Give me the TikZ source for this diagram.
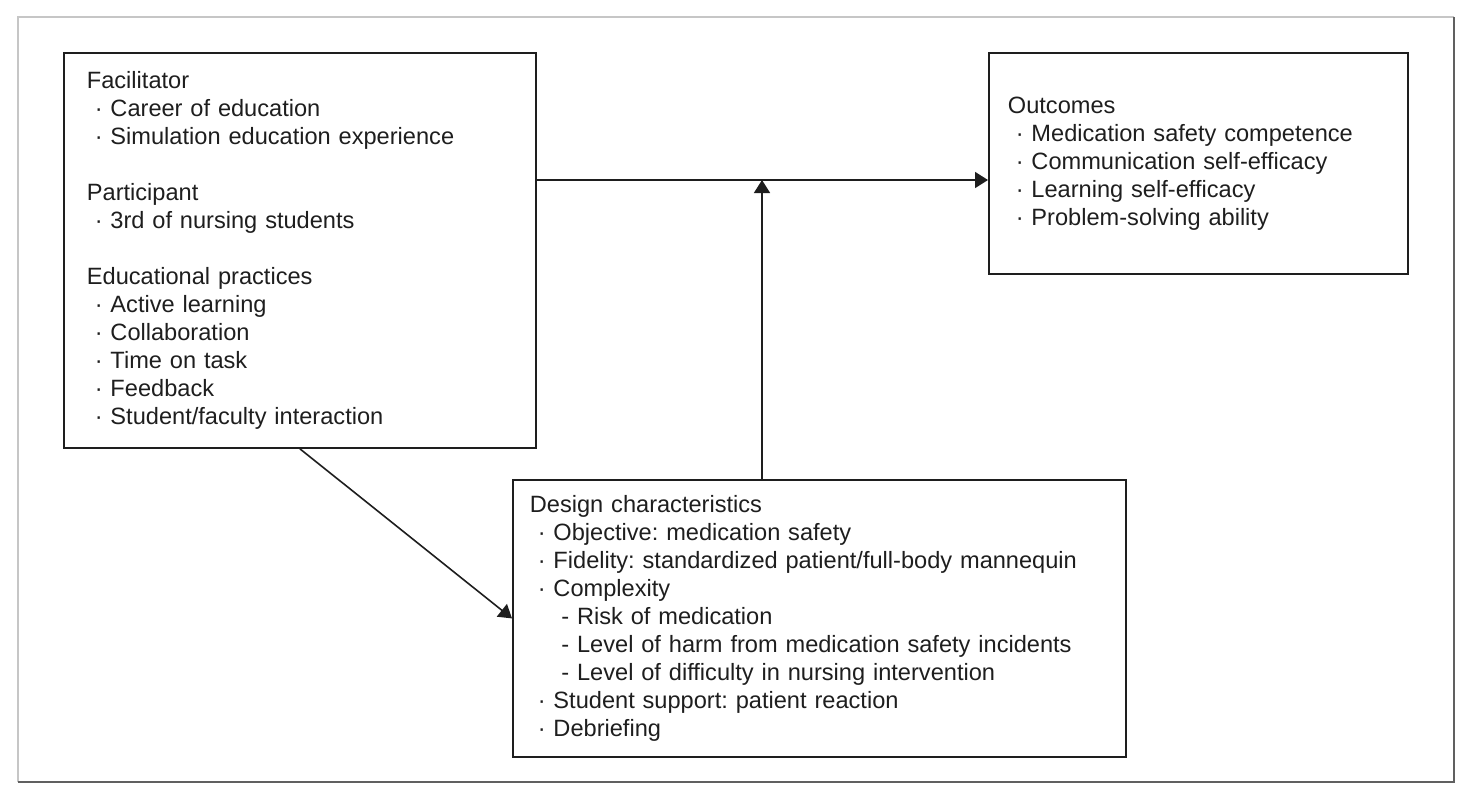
\documentclass[tikz,border=0pt]{standalone}
\usepackage{fontspec}
\setmainfont{Liberation Sans}
\usetikzlibrary{arrows.meta}
\definecolor{ink}{HTML}{1e1e1e}
\frenchspacing

\begin{document}
\begin{tikzpicture}[x=0.5pt,y=-0.5pt,
  box/.style={draw=ink,line width=0.9pt,text=ink,align=left,inner ysep=0pt,
    anchor=north west,font=\fontsize{11.8pt}{14pt}\selectfont},
  link/.style={draw=ink,line width=0.8pt,-{Triangle[length=6.5pt,width=8pt]}}]
\useasboundingbox (0,0) rectangle (1472,800);
\draw[gray!45,line width=0.8pt] (18,782)--(18,17)--(1454,17);
\draw[gray!75!black,line width=0.8pt] (18,782)--(1454,782)--(1454,17);

\node[box,text width=213pt,inner xsep=11.5pt,minimum height=197.5pt] (prep) at (63,52)
  {Facilitator\\
   ~·~Career of education\\
   ~·~Simulation education experience\\[14pt]
   Participant\\
   ~·~3rd of nursing students\\[14pt]
   Educational practices\\
   ~·~Active learning\\
   ~·~Collaboration\\
   ~·~Time on task\\
   ~·~Feedback\\
   ~·~Student/faculty interaction};
\node[box,text width=190.5pt,inner xsep=9.5pt,minimum height=110.5pt] (outc) at (988,52)
  {Outcomes\\
   ~·~Medication safety competence\\
   ~·~Communication self-efficacy\\
   ~·~Learning self-efficacy\\
   ~·~Problem-solving ability};
\node[box,text width=289.5pt,inner xsep=8.5pt,minimum height=138.5pt] (design) at (512,479)
  {Design characteristics\\
   ~·~Objective: medication safety\\
   ~·~Fidelity: standardized patient/full-body mannequin\\
   ~·~Complexity\\
   ~~~~-~Risk of medication\\
   ~~~~-~Level of harm from medication safety incidents\\
   ~~~~-~Level of difficulty in nursing intervention\\
   ~·~Student support: patient reaction\\
   ~·~Debriefing};

\coordinate (mid) at (762,180);
\draw[link] (prep.east |- mid) -- (outc.west |- mid);
\draw[link] (design.north -| mid) -- (mid);
\draw[link] (prep.south) -- (design.west);
\end{tikzpicture}
\end{document}
